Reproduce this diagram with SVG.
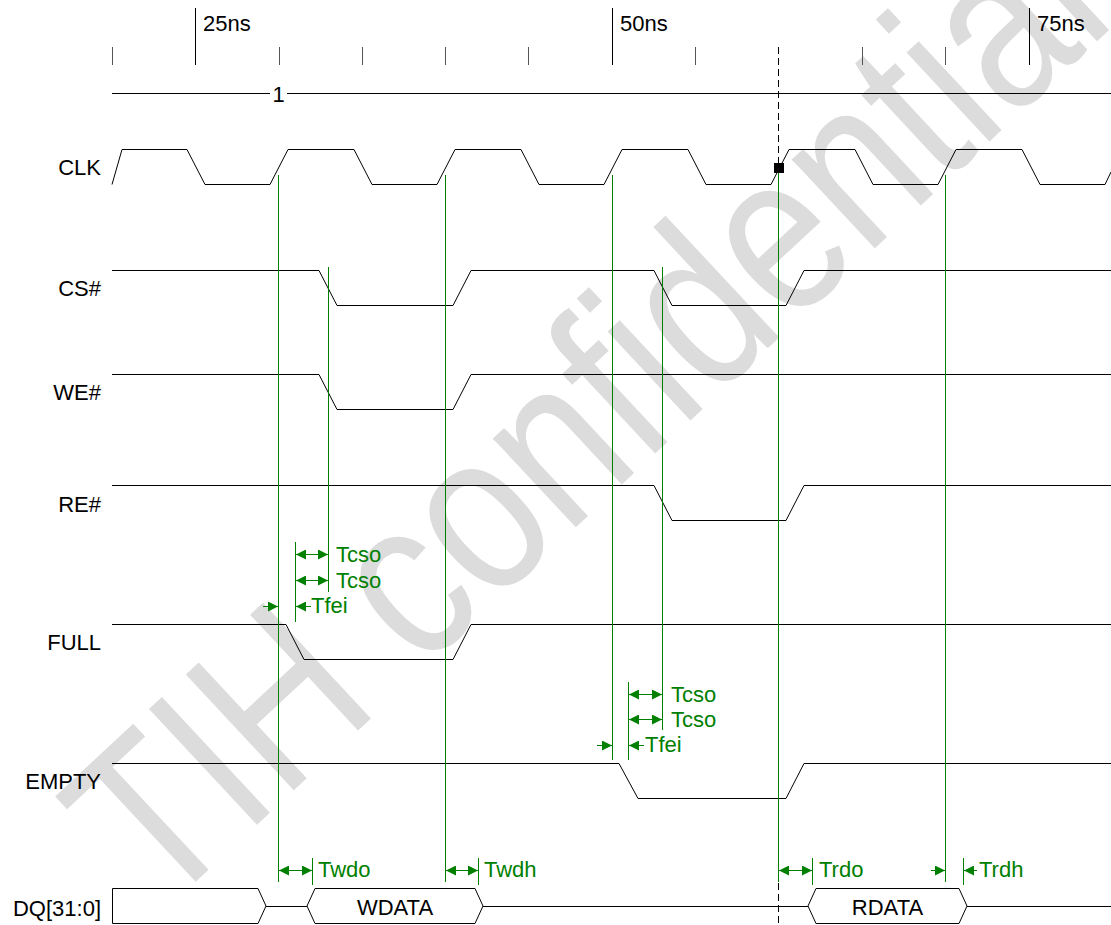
<svg xmlns="http://www.w3.org/2000/svg" width="1111" height="925" viewBox="0 0 1111 925">
<style>
text{font-family:"Liberation Sans",Arial,sans-serif;font-size:22px;fill:#000}
.lbl{text-anchor:end}
.mid{text-anchor:middle}
.g{fill:#008000}
.sig{fill:none;stroke:#000;stroke-width:1}
.box{fill:#fff;stroke:#000;stroke-width:1}
.tk{stroke:#555;stroke-width:1}
.tkM{stroke:#000;stroke-width:1}
.gl{stroke:#008000;stroke-width:1;fill:none}
.ar{stroke:#008000;stroke-width:1;fill:none;marker-end:url(#ah)}
.dar{stroke:#008000;stroke-width:1;fill:none;marker-start:url(#ah);marker-end:url(#ah)}
.wm{font-size:230px;fill:#dcdcdc}
</style>
<defs>
<marker id="ah" viewBox="0 0 10 10" refX="10" refY="5" markerWidth="10" markerHeight="10" markerUnits="userSpaceOnUse" orient="auto-start-reverse">
<path d="M0,0 L10,5 L0,10 Z" fill="#008000"/>
</marker>
</defs>
<rect width="1111" height="925" fill="#fff"/>
<g id="watermark">
<text class="wm" transform="translate(160,915) rotate(-43) scale(0.82,1)">TIH confidential</text>
</g>
<g id="ruler">
<line class="tk" x1="112.5" y1="47" x2="112.5" y2="65"/>
<line class="tkM" x1="195.5" y1="8" x2="195.5" y2="65"/>
<line class="tk" x1="279.5" y1="47" x2="279.5" y2="65"/>
<line class="tk" x1="362.5" y1="47" x2="362.5" y2="65"/>
<line class="tk" x1="445.5" y1="47" x2="445.5" y2="65"/>
<line class="tk" x1="528.5" y1="47" x2="528.5" y2="65"/>
<line class="tkM" x1="612.5" y1="8" x2="612.5" y2="65"/>
<line class="tk" x1="695.5" y1="47" x2="695.5" y2="65"/>
<line class="tk" x1="862.5" y1="47" x2="862.5" y2="65"/>
<line class="tk" x1="945.5" y1="47" x2="945.5" y2="65"/>
<line class="tkM" x1="1029.5" y1="8" x2="1029.5" y2="65"/>
<text x="203" y="31">25ns</text>
<text x="620" y="31">50ns</text>
<text x="1037" y="31">75ns</text>
<path class="sig" d="M112,93.5 H270 M287,93.5 H1111" stroke="#333"/>
<text class="mid" x="278.5" y="102">1</text>
</g>
<g id="CLK">
<text class="lbl" x="101" y="175">CLK</text>
<path class="sig" d="M112,184.5 L122,149.5 H187 L205,184.5 H270 L288,149.5 H354 L372,184.5 H437 L455,149.5 H521 L539,184.5 H604 L622,149.5 H688 L706,184.5 H771 L789,149.5 H855 L873,184.5 H938 L956,149.5 H1022 L1040,184.5 H1105 L1111,172"/>
</g>
<g id="CS">
<text class="lbl" x="101" y="296">CS#</text>
<path class="sig" d="M112,270.5 H319 L337,305.5 H453 L471,270.5 H654 L672,305.5 H786 L804,270.5 H1111"/>
</g>
<g id="WE">
<text class="lbl" x="101" y="400">WE#</text>
<path class="sig" d="M112,374.5 H319 L337,409.5 H453 L471,374.5 H1111"/>
</g>
<g id="RE">
<text class="lbl" x="101" y="512">RE#</text>
<path class="sig" d="M112,485.5 H654 L672,520.5 H786 L804,485.5 H1111"/>
</g>
<g id="FULL">
<text class="lbl" x="101" y="650">FULL</text>
<path class="sig" d="M112,624.5 H286 L304,659.5 H453 L471,624.5 H1111"/>
</g>
<g id="EMPTY">
<text class="lbl" x="101" y="789">EMPTY</text>
<path class="sig" d="M112,763.5 H619 L638,798.5 H786 L804,763.5 H1111"/>
</g>
<g id="DQ">
<text class="lbl" x="101" y="916">DQ[31:0]</text>
<path class="box" d="M112.5,888.5 H258 L266,906 L258,923.5 H112.5 Z"/>
<path class="sig" d="M266,906.5 H307 M483,906.5 H808 M967,906.5 H1111"/>
<path class="box" d="M307,906 L315,888.5 H475 L483,906 L475,923.5 H315 Z"/>
<text class="mid" x="395" y="915">WDATA</text>
<path class="box" d="M808,906 L816,888.5 H959 L967,906 L959,923.5 H816 Z"/>
<text class="mid" x="887.5" y="915">RDATA</text>
</g>
<g id="connectors">
<line x1="778.5" y1="47" x2="778.5" y2="925" stroke="#000" stroke-width="1" stroke-dasharray="7,4"/>
<line class="gl" x1="278.5" y1="175" x2="278.5" y2="882"/>
<line class="gl" x1="445.5" y1="175" x2="445.5" y2="882"/>
<line class="gl" x1="612.5" y1="175" x2="612.5" y2="760"/>
<line class="gl" x1="778.5" y1="170" x2="778.5" y2="882"/>
<line class="gl" x1="945.5" y1="175" x2="945.5" y2="882"/>
<rect x="774" y="163" width="10" height="10" fill="#000"/>
<line class="gl" x1="328.5" y1="267" x2="328.5" y2="592"/>
<line class="gl" x1="295.5" y1="542" x2="295.5" y2="622"/>
<line class="gl" x1="662.5" y1="267" x2="662.5" y2="730"/>
<line class="gl" x1="628.5" y1="682" x2="628.5" y2="760"/>
<line class="gl" x1="312.5" y1="858" x2="312.5" y2="885"/>
<line class="gl" x1="478.5" y1="858" x2="478.5" y2="885"/>
<line class="gl" x1="812.5" y1="858" x2="812.5" y2="885"/>
<line class="gl" x1="963.5" y1="858" x2="963.5" y2="885"/>
<line class="dar" x1="296" y1="554.5" x2="328" y2="554.5"/>
<line class="dar" x1="296" y1="580.5" x2="328" y2="580.5"/>
<line class="ar" x1="263" y1="606.5" x2="278" y2="606.5"/>
<line class="ar" x1="311" y1="606.5" x2="296" y2="606.5"/>
<text class="g" x="336" y="562">Tcso</text>
<text class="g" x="336" y="588">Tcso</text>
<text class="g" x="311" y="613">Tfei</text>
<line class="dar" x1="629" y1="694.5" x2="662" y2="694.5"/>
<line class="dar" x1="629" y1="719.5" x2="662" y2="719.5"/>
<line class="ar" x1="597" y1="745.5" x2="612" y2="745.5"/>
<line class="ar" x1="644" y1="745.5" x2="629" y2="745.5"/>
<text class="g" x="671" y="702">Tcso</text>
<text class="g" x="671" y="727">Tcso</text>
<text class="g" x="645" y="752">Tfei</text>
<line class="dar" x1="279" y1="870.5" x2="312" y2="870.5"/>
<text class="g" x="318" y="877">Twdo</text>
<line class="dar" x1="446" y1="870.5" x2="478" y2="870.5"/>
<text class="g" x="484" y="877">Twdh</text>
<line class="dar" x1="779" y1="870.5" x2="812" y2="870.5"/>
<text class="g" x="819" y="877">Trdo</text>
<line class="ar" x1="931" y1="870.5" x2="945" y2="870.5"/>
<line class="ar" x1="977" y1="870.5" x2="964" y2="870.5"/>
<text class="g" x="979" y="877">Trdh</text>
</g>
</svg>
